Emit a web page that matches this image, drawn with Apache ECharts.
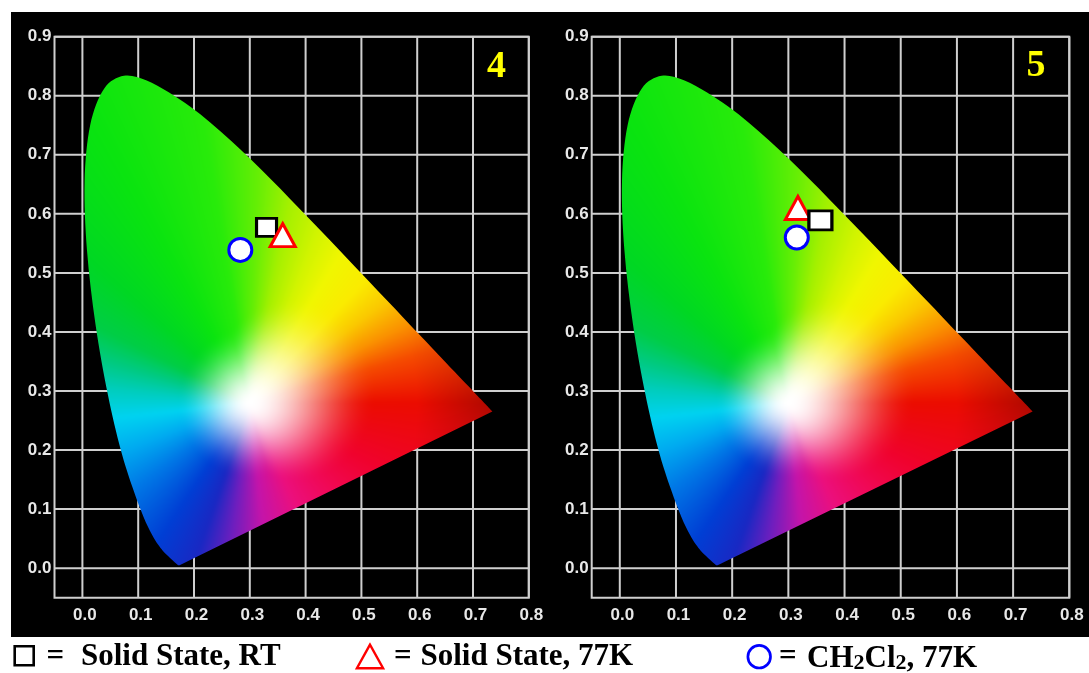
<!DOCTYPE html>
<html>
<head>
<meta charset="utf-8">
<script src="https://cdn.jsdelivr.net/npm/echarts@6/dist/echarts.min.js"></script>
<style>
  html, body { margin: 0; padding: 0; background: #ffffff; }
  #chart { width: 1089px; height: 673px; }
</style>
</head>
<body>
<div id="chart"></div>
<script>
// ---- data -------------------------------------------------------------
// Panel numbers (complex 4 and complex 5)
const panelLabels = ['4', '5'];

// CIE 1931 (x, y) emission coordinates, one entry per panel
const solidStateRT  = [[0.330, 0.577], [0.357, 0.589]];
const solidState77K = [[0.359, 0.564], [0.317, 0.610]];
const ch2cl2At77K   = [[0.283, 0.539], [0.315, 0.560]];

const seriesNames = ['Solid State, RT', 'Solid State, 77K', 'CH2Cl2, 77K'];

// Axis tick labels
const xTickValues = [0.0, 0.1, 0.2, 0.3, 0.4, 0.5, 0.6, 0.7, 0.8];
const yTickValues = [0.0, 0.1, 0.2, 0.3, 0.4, 0.5, 0.6, 0.7, 0.8, 0.9];

// CIE 1931 2° spectral locus, 380–700 nm in 5 nm steps
const spectralLocus = [
  [0.1741, 0.0050], [0.1740, 0.0050], [0.1738, 0.0049], [0.1736, 0.0049],
  [0.1733, 0.0048], [0.1730, 0.0048], [0.1726, 0.0048], [0.1721, 0.0048],
  [0.1714, 0.0051], [0.1703, 0.0058], [0.1689, 0.0069], [0.1669, 0.0086],
  [0.1644, 0.0109], [0.1611, 0.0138], [0.1566, 0.0177], [0.1510, 0.0227],
  [0.1440, 0.0297], [0.1355, 0.0399], [0.1241, 0.0578], [0.1096, 0.0868],
  [0.0913, 0.1327], [0.0687, 0.2007], [0.0454, 0.2950], [0.0235, 0.4127],
  [0.0082, 0.5384], [0.0039, 0.6548], [0.0139, 0.7502], [0.0389, 0.8120],
  [0.0743, 0.8338], [0.1142, 0.8262], [0.1547, 0.8059], [0.1929, 0.7816],
  [0.2296, 0.7543], [0.2658, 0.7243], [0.3016, 0.6923], [0.3373, 0.6589],
  [0.3731, 0.6245], [0.4087, 0.5896], [0.4441, 0.5547], [0.4788, 0.5202],
  [0.5125, 0.4866], [0.5448, 0.4544], [0.5752, 0.4242], [0.6029, 0.3965],
  [0.6270, 0.3725], [0.6482, 0.3514], [0.6658, 0.3340], [0.6801, 0.3197],
  [0.6915, 0.3083], [0.7006, 0.2993], [0.7079, 0.2920], [0.7140, 0.2859],
  [0.7190, 0.2809], [0.7230, 0.2770], [0.7260, 0.2740], [0.7283, 0.2717],
  [0.7300, 0.2700], [0.7311, 0.2689], [0.7320, 0.2680], [0.7327, 0.2673],
  [0.7334, 0.2666], [0.7340, 0.2660], [0.7344, 0.2656], [0.7346, 0.2654],
  [0.7347, 0.2653]
];

// ---- styling ------------------------------------------------------------
const GRID_COLOR = '#cfcfcf';
const TICK_FONT = { fontFamily: '"Liberation Sans", Arial, sans-serif', fontWeight: 'bold', fontSize: 17, color: '#e8e8e8' };
const SERIF = '"Liberation Serif", "Times New Roman", serif';
const rectSizes = [[20, 18], [23, 19]];

const gridBoxes = [
  { left: 54.5, top: 36.7, width: 474.3, height: 561 },
  { left: 591.7, top: 36.7, width: 477.6, height: 561 }
];

// Colour wheel of the diagram fill: direction (degrees, seen from the
// white centre) -> fully saturated sRGB colour.
const WHITE_CENTRE = [0.30, 0.28];
const HUE_STOPS = [
  [0, 235, 12, 0], [15, 245, 75, 0], [25, 250, 145, 0], [35, 250, 200, 0],
  [45, 250, 235, 0], [57, 240, 246, 0], [67, 210, 244, 0], [78, 165, 240, 0],
  [88, 100, 238, 5], [100, 40, 235, 10], [120, 10, 228, 15], [140, 0, 215, 35],
  [155, 0, 205, 70], [165, 0, 202, 130], [175, 0, 205, 190], [186, 0, 210, 240],
  [200, 0, 170, 240], [215, 0, 120, 230], [235, 0, 62, 212], [250, 25, 40, 195],
  [262, 110, 30, 190], [276, 195, 20, 170], [295, 235, 15, 125], [315, 240, 8, 85],
  [335, 240, 2, 45], [360, 235, 12, 0]
];

function hueAt(deg) {
  for (let k = 1; k < HUE_STOPS.length; k++) {
    const a = HUE_STOPS[k - 1], b = HUE_STOPS[k];
    if (deg <= b[0]) {
      const t = (deg - a[0]) / (b[0] - a[0]);
      return [a[1] + (b[1] - a[1]) * t, a[2] + (b[2] - a[2]) * t, a[3] + (b[3] - a[3]) * t];
    }
  }
  const l = HUE_STOPS[HUE_STOPS.length - 1];
  return [l[1], l[2], l[3]];
}

function chromaticityColor(x, y) {
  const dx = x - WHITE_CENTRE[0], dy = y - WHITE_CENTRE[1];
  const r = Math.hypot(dx, dy);
  let deg = Math.atan2(dy, dx) * 180 / Math.PI;
  if (deg < 0) deg += 360;
  const hue = hueAt(deg);
  // radius of the pale core, wider toward the yellow / red side
  const core = 0.13 + 0.10 * Math.max(0, Math.cos((deg - 15) * Math.PI / 180));
  const t = Math.min(1, r / core);
  const s = t * t * (3 - 2 * t);
  // deeper red toward the long-wavelength tip
  const signed = deg > 180 ? deg - 360 : deg;
  const tip = Math.max(0, 1 - Math.abs(signed) / 25) * Math.min(1, Math.max(0, (r - 0.30) / 0.13));
  const shade = 1 - 0.25 * tip;
  return hue.map(h => Math.round((255 * (1 - s) + h * s) * shade));
}

const gamutCache = {};

function traceLocus(ctx, pts, ox, oy) {
  const n = pts.length;
  ctx.moveTo(pts[0][0] - ox, pts[0][1] - oy);
  for (let i = 0; i < n - 1; i++) {
    const p0 = pts[Math.max(0, i - 1)], p1 = pts[i], p2 = pts[i + 1], p3 = pts[Math.min(n - 1, i + 2)];
    ctx.bezierCurveTo(
      p1[0] + (p2[0] - p0[0]) / 6 - ox, p1[1] + (p2[1] - p0[1]) / 6 - oy,
      p2[0] - (p3[0] - p1[0]) / 6 - ox, p2[1] - (p3[1] - p1[1]) / 6 - oy,
      p2[0] - ox, p2[1] - oy
    );
  }
  ctx.closePath();
}

function gamutImage(api) {
  const o = api.coord([0, 0]);
  const u = api.coord([1, 1]);
  const kx = u[0] - o[0], ky = u[1] - o[1];
  const pts = spectralLocus.map(p => api.coord(p));
  const xs = pts.map(p => p[0]), ys = pts.map(p => p[1]);
  const left = Math.floor(Math.min(...xs)) - 2, top = Math.floor(Math.min(...ys)) - 2;
  const W = Math.ceil(Math.max(...xs)) + 2 - left, H = Math.ceil(Math.max(...ys)) + 2 - top;
  const key = [left, top, W, H].join(',');
  if (gamutCache[key]) return gamutCache[key];

  const src = document.createElement('canvas');
  src.width = W; src.height = H;
  const sctx = src.getContext('2d');
  const img = sctx.createImageData(W, H);
  for (let j = 0; j < H; j++) {
    const cy = (top + j + 0.5 - o[1]) / ky;
    for (let i = 0; i < W; i++) {
      const cx = (left + i + 0.5 - o[0]) / kx;
      const c = chromaticityColor(cx, cy);
      const k = (j * W + i) * 4;
      img.data[k] = c[0]; img.data[k + 1] = c[1]; img.data[k + 2] = c[2]; img.data[k + 3] = 255;
    }
  }
  sctx.putImageData(img, 0, 0);

  const out = document.createElement('canvas');
  out.width = W; out.height = H;
  const ctx = out.getContext('2d');
  ctx.beginPath();
  traceLocus(ctx, pts, left, top);
  ctx.save();
  ctx.clip();
  ctx.filter = 'blur(1.5px)';
  ctx.drawImage(src, 0, 0);
  ctx.restore();

  const res = { canvas: out, x: left, y: top, width: W, height: H };
  gamutCache[key] = res;
  return res;
}

// ---- option -------------------------------------------------------------
const grids = [], xAxes = [], yAxes = [], series = [];

panelLabels.forEach((label, i) => {
  grids.push(Object.assign({
    show: true, borderColor: GRID_COLOR, borderWidth: 2, backgroundColor: 'transparent',
    containLabel: false, outerBoundsMode: 'none'
  }, gridBoxes[i]));

  xAxes.push({
    type: 'value', gridIndex: i, min: -0.05, max: 0.8,
    axisLine: { show: false }, axisTick: { show: false }, splitLine: { show: false },
    axisLabel: Object.assign({
      customValues: xTickValues, margin: 9, padding: [0, 0, 0, 5],
      formatter: v => v.toFixed(1)
    }, TICK_FONT)
  });
  yAxes.push({
    type: 'value', gridIndex: i, min: -0.05, max: 0.9,
    axisLine: { show: false }, axisTick: { show: false }, splitLine: { show: false },
    axisLabel: Object.assign({
      customValues: yTickValues, margin: 3,
      formatter: v => v.toFixed(1)
    }, TICK_FONT)
  });

  // grid lines at every tick
  series.push({
    type: 'custom', xAxisIndex: i, yAxisIndex: i, silent: true, z: 1,
    data: [[0, 0]],
    renderItem: (params, api) => {
      const children = [];
      xTickValues.forEach(v => {
        const a = api.coord([v, -0.05]), b = api.coord([v, 0.9]);
        children.push({ type: 'line', shape: { x1: a[0], y1: a[1], x2: b[0], y2: b[1] },
          style: { stroke: GRID_COLOR, lineWidth: 2 } });
      });
      yTickValues.forEach(v => {
        const a = api.coord([-0.05, v]), b = api.coord([0.8, v]);
        children.push({ type: 'line', shape: { x1: a[0], y1: a[1], x2: b[0], y2: b[1] },
          style: { stroke: GRID_COLOR, lineWidth: 2 } });
      });
      return { type: 'group', children };
    }
  });

  // chromaticity diagram
  series.push({
    type: 'custom', xAxisIndex: i, yAxisIndex: i, silent: true, z: 5,
    data: [[0, 0]],
    renderItem: (params, api) => {
      const g = gamutImage(api);
      return { type: 'image', style: { image: g.canvas, x: g.x, y: g.y, width: g.width, height: g.height } };
    }
  });

  series.push({
    type: 'scatter', name: seriesNames[0], xAxisIndex: i, yAxisIndex: i,
    data: [solidStateRT[i]], symbol: 'rect', symbolSize: rectSizes[i],
    itemStyle: { color: '#ffffff', borderColor: '#000000', borderWidth: 3, opacity: 1 },
    z: i === 0 ? 20 : 22, silent: true
  });
  series.push({
    type: 'scatter', name: seriesNames[1], xAxisIndex: i, yAxisIndex: i,
    data: [solidState77K[i]], symbol: 'triangle', symbolSize: [25, 23],
    itemStyle: { color: '#ffffff', borderColor: '#ff0000', borderWidth: 3, opacity: 1 },
    z: i === 0 ? 22 : 20, silent: true
  });
  series.push({
    type: 'scatter', name: seriesNames[2], xAxisIndex: i, yAxisIndex: i,
    data: [ch2cl2At77K[i]], symbol: 'circle', symbolSize: 23,
    itemStyle: { color: '#ffffff', borderColor: '#0000ff', borderWidth: 3, opacity: 1 },
    z: 23, silent: true
  });
});

const legendFont = { fontFamily: SERIF, fontWeight: 'bold', fontSize: 31, fill: '#000' };

const graphic = [
  { type: 'rect', z: -10, silent: true, shape: { x: 11, y: 12, width: 1078, height: 625 }, style: { fill: '#000000' } },
  { type: 'text', z: 30, x: 496.5, y: 67, style: { text: panelLabels[0], fontFamily: SERIF, fontWeight: 'bold', fontSize: 38, fill: '#ffff00', align: 'center', verticalAlign: 'middle' } },
  { type: 'text', z: 30, x: 1036, y: 66, style: { text: panelLabels[1], fontFamily: SERIF, fontWeight: 'bold', fontSize: 38, fill: '#ffff00', align: 'center', verticalAlign: 'middle' } },

  // legend
  { type: 'rect', shape: { x: 14.7, y: 646.3, width: 19, height: 19 }, style: { fill: '#ffffff', stroke: '#000000', lineWidth: 2.6 } },
  { type: 'text', x: 46.5, y: 657, style: Object.assign({ text: '=', verticalAlign: 'middle' }, legendFont) },
  { type: 'text', x: 81, y: 657, style: Object.assign({ text: seriesNames[0], verticalAlign: 'middle' }, legendFont) },

  { type: 'polygon', shape: { points: [[370, 644.6], [356.9, 668.2], [383.1, 668.2]] }, style: { fill: '#ffffff', stroke: '#ff0000', lineWidth: 2.4 } },
  { type: 'text', x: 394, y: 657, style: Object.assign({ text: '=', verticalAlign: 'middle' }, legendFont) },
  { type: 'text', x: 420.5, y: 657, style: Object.assign({ text: seriesNames[1], verticalAlign: 'middle' }, legendFont) },

  { type: 'circle', shape: { cx: 759.2, cy: 656.7, r: 11.3 }, style: { fill: '#ffffff', stroke: '#0000ff', lineWidth: 2.7 } },
  { type: 'text', x: 779, y: 657, style: Object.assign({ text: '=', verticalAlign: 'middle' }, legendFont) },
  { type: 'text', x: 807, y: 657, style: {
      text: '{m|CH}{s|2}{m|Cl}{s|2}{m|, 77K}', verticalAlign: 'middle',
      rich: {
        m: { fontFamily: SERIF, fontWeight: 'bold', fontSize: 31, fill: '#000', verticalAlign: 'bottom', lineHeight: 34 },
        s: { fontFamily: SERIF, fontWeight: 'bold', fontSize: 22, fill: '#000', verticalAlign: 'bottom', lineHeight: 18 }
      }
  } }
];

const chart = echarts.init(document.getElementById('chart'), null, { renderer: 'canvas' });
chart.setOption({
  animation: false,
  backgroundColor: '#ffffff',
  grid: grids,
  xAxis: xAxes,
  yAxis: yAxes,
  series: series,
  graphic: graphic
});
</script>
</body>
</html>
